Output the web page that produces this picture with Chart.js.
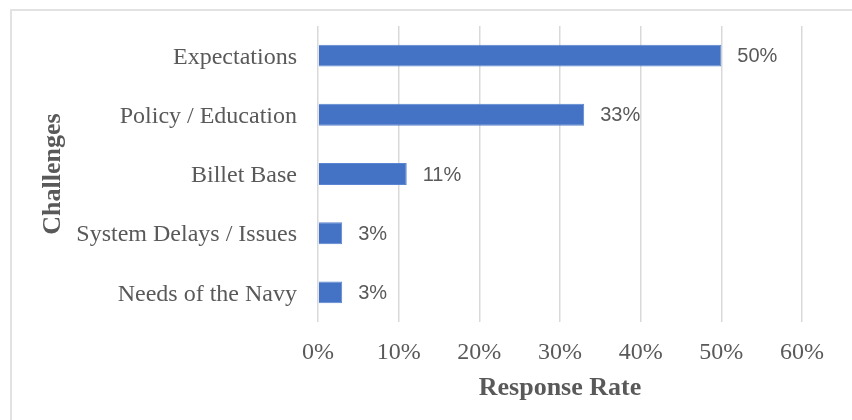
<!DOCTYPE html>
<html>
<head>
<meta charset="utf-8">
<title>Challenges by Response Rate</title>
<script src="https://cdn.jsdelivr.net/npm/chart.js@4.4.1/dist/chart.umd.min.js"></script>
<style>
    html, body {
        margin: 0;
        padding: 0;
        background: #ffffff;
        overflow: hidden;
    }
    #wrap {
        position: relative;
        width: 852px;
        height: 420px;
        overflow: hidden;
    }
    #frame {
        position: absolute;
        left: 10px;
        top: 9px;
        width: 1000px;
        height: 1000px;
        border: 2px solid #e2e2e2;
        box-sizing: border-box;
    }
    #chart {
        position: absolute;
        left: 0;
        top: 0;
    }
</style>
</head>
<body>
<div id="wrap">
    <div id="frame"></div>
    <canvas id="chart" width="852" height="420"></canvas>
</div>
<script>
const challenges = ['Expectations', 'Policy / Education', 'Billet Base', 'System Delays / Issues', 'Needs of the Navy'];
const responseRates = [50, 33, 11, 3, 3];
const rateTicks = [0, 10, 20, 30, 40, 50, 60];

const serif = "'Liberation Serif', 'Times New Roman', serif";
const textGray = '#595959';

// value labels to the right of each bar
const barLabels = {
    id: 'barLabels',
    afterDatasetsDraw(chart) {
        const ctx = chart.ctx;
        const meta = chart.getDatasetMeta(0);
        ctx.save();
        ctx.font = "20px 'Liberation Sans', Arial, sans-serif";
        ctx.fillStyle = textGray;
        ctx.textAlign = 'left';
        ctx.textBaseline = 'middle';
        meta.data.forEach((bar, i) => {
            ctx.fillText(responseRates[i] + '%', bar.x + 16, bar.y + 1);
        });
        ctx.restore();
    }
};

const chartCanvas = document.getElementById('chart');

new Chart(chartCanvas, {
    type: 'bar',
    data: {
        labels: challenges,
        datasets: [{
            data: responseRates,
            backgroundColor: '#4472c4',
            borderColor: '#5a85d0',
            borderWidth: 1,
            barPercentage: 0.37,
            categoryPercentage: 1
        }]
    },
    options: {
        indexAxis: 'y',
        responsive: false,
        animation: false,
        devicePixelRatio: 1,
        layout: {
            padding: { top: 26, right: 50, bottom: 0, left: 20 }
        },
        plugins: {
            legend: { display: false },
            tooltip: { enabled: false }
        },
        scales: {
            x: {
                min: 0,
                max: 60,
                afterFit: (scale) => { scale.height = 98; },
                afterBuildTicks: (scale) => {
                    scale.ticks = rateTicks.map(v => ({ value: v }));
                },
                ticks: {
                    padding: 16,
                    color: textGray,
                    font: { family: serif, size: 24 },
                    callback: (v) => v + '%'
                },
                grid: {
                    color: '#d9d9d9',
                    lineWidth: 1.5,
                    drawTicks: false
                },
                border: { display: false },
                title: {
                    display: true,
                    text: 'Response Rate',
                    color: textGray,
                    font: { family: serif, size: 26, weight: 'bold' },
                    padding: { top: 0, bottom: 16 }
                }
            },
            y: {
                afterFit: (scale) => {
                    scale.width = 298;
                    // labels sit in band centres, no overhang to reserve
                    scale.paddingTop = 0;
                    scale.paddingBottom = 0;
                },
                ticks: {
                    padding: 21,
                    labelOffset: 2,
                    color: textGray,
                    font: { family: serif, size: 24 }
                },
                grid: { display: false, drawTicks: false },
                border: { display: false },
                title: {
                    display: true,
                    text: 'Challenges',
                    color: textGray,
                    font: { family: serif, size: 26, weight: 'bold' },
                    padding: { top: 18, bottom: 0 }
                }
            }
        }
    },
    plugins: [barLabels]
});
</script>
</body>
</html>
